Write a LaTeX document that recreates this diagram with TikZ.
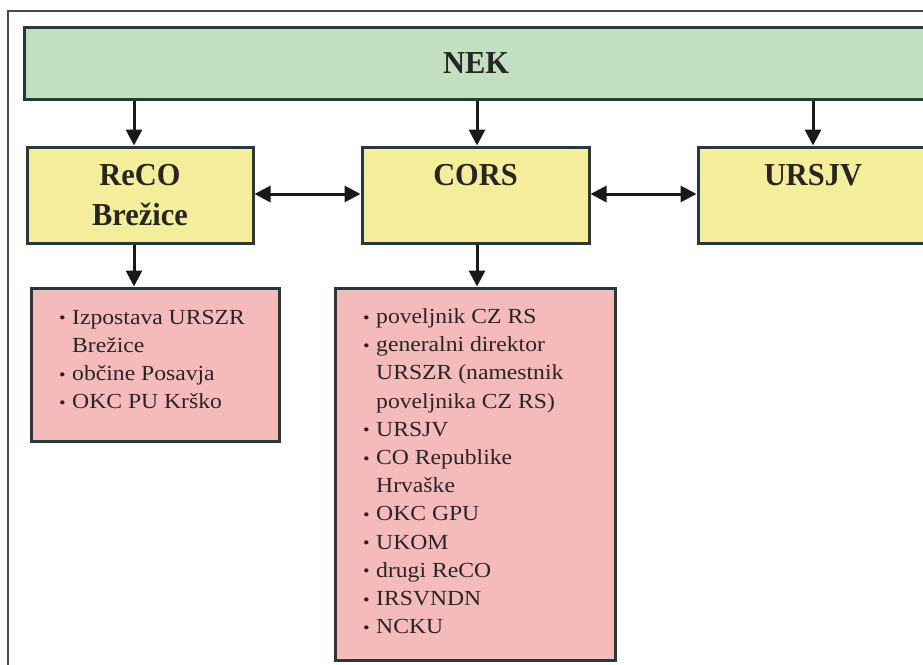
\documentclass[tikz,border=0pt]{standalone}
\usepackage{fontspec}
\setmainfont{Liberation Serif}
\newfontfamily\headfont[FakeStretch=0.95]{Liberation Serif}
\newfontfamily\bodyfont[FakeStretch=1.1]{Liberation Serif}
\usetikzlibrary{arrows.meta}
\definecolor{nekgreen}{HTML}{C2DFBF}
\definecolor{boxyellow}{HTML}{F4EE9A}
\definecolor{boxpink}{HTML}{F5BABA}
\definecolor{edgec}{HTML}{243B3E}
\definecolor{framec}{HTML}{4A4A4A}
\newcommand{\bulmark}{\makebox[13pt][l]{\fontsize{17}{17}\selectfont\raisebox{0.3pt}{•}}}
\newcommand{\itm}[1]{\bulmark#1}
\newcommand{\cnt}[1]{\hspace*{13pt}#1}
\tikzset{
  box/.style={draw=edgec, line width=3pt, rectangle, inner sep=0pt, align=center,
    font=\headfont\bfseries\fontsize{32}{40}\selectfont, text=black!85},
  listbox/.style={draw=edgec, line width=3pt, rectangle, inner sep=0pt, fill=boxpink},
  listtext/.style={anchor=north west, inner sep=0pt, align=left,
    font=\bodyfont\fontsize{21.5}{28.2}\selectfont, text=black!85},
  arr/.style={line width=3pt, draw=black!90, -{Triangle[length=16pt,width=16pt]}},
  darr/.style={line width=3pt, draw=black!90, {Triangle[length=16pt,width=16pt]}-{Triangle[length=16pt,width=16pt]}}
}
\begin{document}
\begin{tikzpicture}[x=1pt,y=-1pt]
\useasboundingbox (0,0) rectangle (923,664);
\clip (0,0) rectangle (923,664);
\fill[white] (0,0) rectangle (923,664);
\draw[framec, line width=1.5pt] (8,11) rectangle (960,720);

\node[box, fill=nekgreen, minimum width=904pt, minimum height=72pt] (NEK) at (476,63) {NEK};
\node[box, fill=boxyellow, minimum width=226pt, minimum height=96pt] (ReCO) at (140,195) {ReCO\\Brežice};
\node[box, fill=boxyellow, minimum width=227pt, minimum height=96pt] (CORS) at (475.5,195) {CORS\\\phantom{Brežice}};
\node[box, fill=boxyellow, minimum width=230pt, minimum height=96pt] (URSJV) at (813,195) {URSJV\\\phantom{Brežice}};

\node[listbox, minimum width=248pt, minimum height=153pt] (L1) at (155,364.5) {};
\node[listbox, minimum width=280pt, minimum height=372pt] (L2) at (475,474) {};

\node[listtext] (T1) at (59,309.6) {\itm{Izpostava URSZR}\\\cnt{Brežice}\\\itm{občine Posavja}\\\itm{OKC PU Krško}};
\node[listtext] (T2) at (363,308.3) {\itm{poveljnik CZ RS}\\\itm{generalni direktor}\\\cnt{URSZR (namestnik}\\\cnt{poveljnika CZ RS)}\\\itm{URSJV}\\\itm{CO Republike}\\\cnt{Hrvaške}\\\itm{OKC GPU}\\\itm{UKOM}\\\itm{drugi ReCO}\\\itm{IRSVNDN}\\\itm{NCKU}};

\coordinate (a1) at (134,0);
\coordinate (a2) at (477,0);
\coordinate (a3) at (813,0);
\coordinate (h1) at (0,194);

\draw[arr] (NEK.south -| a1) -- (ReCO.north -| a1);
\draw[arr] (NEK.south -| a2) -- (CORS.north -| a2);
\draw[arr] (NEK.south -| a3) -- (URSJV.north -| a3);
\draw[darr] (ReCO.east |- h1) -- (CORS.west |- h1);
\draw[darr] (CORS.east |- h1) -- (URSJV.west |- h1);
\draw[arr] (ReCO.south -| a1) -- (L1.north -| a1);
\draw[arr] (CORS.south -| a2) -- (L2.north -| a2);
\end{tikzpicture}
\end{document}
